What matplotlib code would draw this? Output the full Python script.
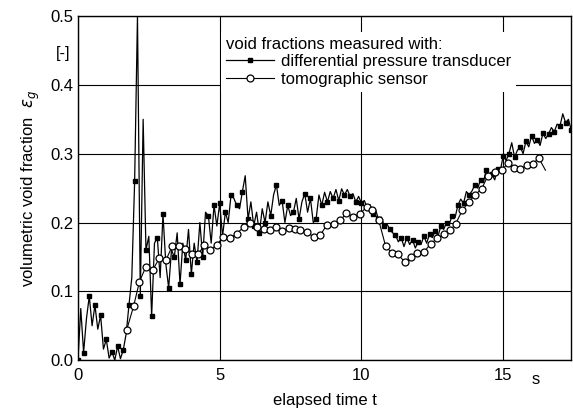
import numpy as np
from matplotlib import pyplot as plt

plt.rcParams['font.family'] = ['Liberation Sans', 'DejaVu Sans']
plt.rcParams['mathtext.fontset'] = 'dejavusans'

# differential pressure transducer, sampled every 0.1 s from t = 0
DP_STEP = 0.1
dp_values = [
    0.000, 0.075, 0.011, 0.060, 0.093, 0.050, 0.080, 0.045, 0.065, 0.016,
    0.030, 0.003, 0.012, 0.000, 0.020, 0.002, 0.015, 0.038, 0.080, 0.120,
    0.260, 0.500, 0.093, 0.350, 0.160, 0.180, 0.064, 0.170, 0.178, 0.120,
    0.212, 0.140, 0.105, 0.160, 0.150, 0.185, 0.110, 0.170, 0.145, 0.190,
    0.125, 0.170, 0.142, 0.200, 0.150, 0.215, 0.210, 0.170, 0.225, 0.195,
    0.228, 0.180, 0.215, 0.200, 0.240, 0.235, 0.225, 0.220, 0.245, 0.268,
    0.205, 0.230, 0.195, 0.215, 0.185, 0.220, 0.200, 0.230, 0.210, 0.240,
    0.255, 0.225, 0.232, 0.200, 0.225, 0.210, 0.215, 0.235, 0.205, 0.230,
    0.242, 0.215, 0.235, 0.200, 0.205, 0.240, 0.225, 0.244, 0.230, 0.245,
    0.235, 0.248, 0.232, 0.249, 0.240, 0.248, 0.238, 0.242, 0.230, 0.238,
    0.228, 0.232, 0.222, 0.226, 0.212, 0.218, 0.205, 0.208, 0.195, 0.198,
    0.190, 0.185, 0.182, 0.172, 0.178, 0.165, 0.178, 0.168, 0.175, 0.163,
    0.172, 0.168, 0.180, 0.170, 0.183, 0.178, 0.188, 0.180, 0.195, 0.190,
    0.200, 0.198, 0.210, 0.207, 0.225, 0.234, 0.228, 0.245, 0.240, 0.246,
    0.255, 0.250, 0.262, 0.258, 0.277, 0.265, 0.270, 0.262, 0.278, 0.276,
    0.297, 0.290, 0.300, 0.316, 0.295, 0.305, 0.310, 0.300, 0.318, 0.310,
    0.326, 0.315, 0.320, 0.312, 0.330, 0.322, 0.329, 0.338, 0.332, 0.343,
    0.340, 0.358, 0.345, 0.350, 0.334,
]
dp_time = np.arange(len(dp_values)) * DP_STEP

# tomographic sensor
tomo_time = [
    1.72, 1.96, 2.17, 2.40, 2.64, 2.87, 3.10, 3.33, 3.56, 3.78, 4.02, 4.25,
    4.46, 4.66, 4.90, 5.13, 5.37, 5.60, 5.84, 6.08, 6.30, 6.55, 6.78, 6.99,
    7.20, 7.43, 7.64, 7.84, 8.08, 8.32, 8.55, 8.79, 9.02, 9.26, 9.47, 9.70,
    9.94, 10.18, 10.38, 10.61, 10.85, 11.06, 11.28, 11.52, 11.76, 11.97,
    12.20, 12.44, 12.67, 12.91, 13.14, 13.32, 13.56, 13.79, 14.00, 14.24,
    14.46, 14.70, 14.95, 15.18, 15.37, 15.60, 15.84, 16.05, 16.25, 16.49,
]
tomo_values = [
    0.044, 0.078, 0.114, 0.136, 0.131, 0.148, 0.145, 0.166, 0.166, 0.161,
    0.154, 0.154, 0.168, 0.160, 0.168, 0.179, 0.177, 0.184, 0.193, 0.199,
    0.193, 0.191, 0.189, 0.193, 0.187, 0.192, 0.190, 0.189, 0.186, 0.179,
    0.182, 0.197, 0.198, 0.203, 0.214, 0.208, 0.213, 0.222, 0.218, 0.203,
    0.166, 0.156, 0.154, 0.143, 0.150, 0.156, 0.157, 0.169, 0.177, 0.183,
    0.189, 0.198, 0.218, 0.230, 0.240, 0.249, 0.268, 0.273, 0.276, 0.287,
    0.279, 0.278, 0.283, 0.285, 0.294, 0.276,
]

x_ticks = [0, 5, 10, 15]
y_ticks = [0.0, 0.1, 0.2, 0.3, 0.4, 0.5]

fig = plt.figure(figsize=(5.73, 4.13), dpi=100)
ax = fig.add_axes([0.136, 0.128, 0.861, 0.833])

ax.plot(dp_time, dp_values, color='black', lw=0.9, marker='s', ms=3.5,
        markevery=2, mfc='black', mec='black',
        label='differential pressure transducer')
ax.plot(tomo_time, tomo_values, color='black', lw=0.8, marker='o', ms=5,
        markevery=list(range(len(tomo_time) - 1)), mfc='white', mec='black',
        mew=0.9, label='tomographic sensor')

ax.set_xlim(0, 17.4)
ax.set_ylim(0, 0.5)
ax.set_xticks(x_ticks)
ax.set_yticks(y_ticks)
ax.set_xticklabels([str(t) for t in x_ticks])
ax.set_yticklabels(['%.1f' % v for v in y_ticks])
ax.tick_params(length=0, labelsize=12, pad=3)
ax.tick_params(axis='x', pad=6)
ax.grid(True, color='black', lw=0.8)
ax.set_axisbelow(True)
for s in ax.spines.values():
    s.set_linewidth(1.0)

ax.set_xlabel('elapsed time t', fontsize=12, labelpad=7)
ax.set_ylabel('volumetric void fraction  $\\varepsilon_g$', fontsize=12, labelpad=6)
ax.text(-0.031, 0.892, '[-]', transform=ax.transAxes, fontsize=12,
        ha='center', va='center')
ax.text(0.927, -0.055, 's', transform=ax.transAxes, fontsize=12,
        ha='center', va='center')

leg = ax.legend(loc='upper left', bbox_to_anchor=(0.29, 0.955),
                title='void fractions measured with:', fontsize=12,
                title_fontsize=12, frameon=True, fancybox=False,
                edgecolor='none', facecolor='white', framealpha=1,
                handlelength=2.9, handletextpad=0.4, labelspacing=0.15,
                borderpad=0.3, borderaxespad=0)
leg._legend_box.align = 'left'

plt.savefig('out.png', dpi=100)
